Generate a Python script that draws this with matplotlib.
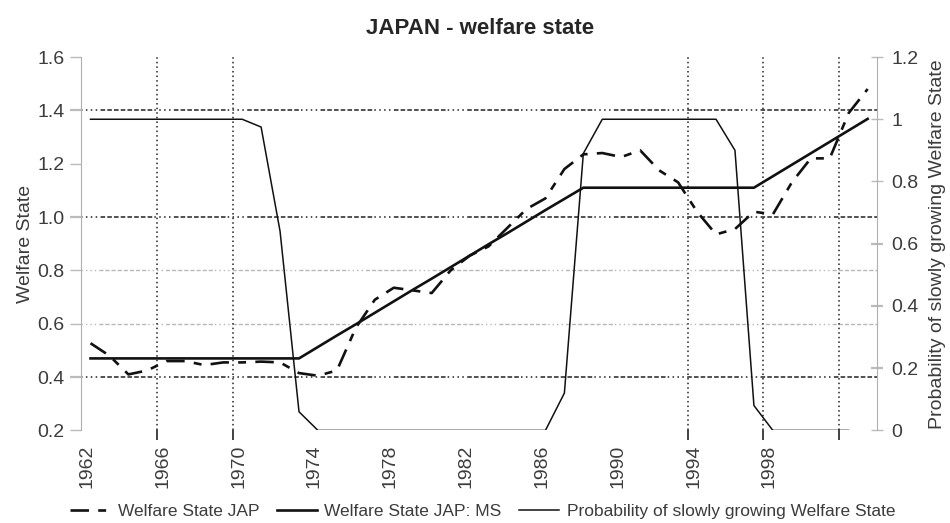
import matplotlib
matplotlib.use("Agg")
import matplotlib.pyplot as plt
import matplotlib.transforms as mtransforms

plt.rcParams['font.family'] = ['Liberation Sans', 'DejaVu Sans']

# yearly series, 1962-2003
years = list(range(1962, 2004))
welfare_jap = [0.527, 0.48, 0.41, 0.425, 0.46, 0.46, 0.445, 0.455, 0.455, 0.458,
               0.455, 0.415, 0.405, 0.425, 0.585, 0.69, 0.735, 0.725, 0.715, 0.80,
               0.855, 0.89, 0.96, 1.03, 1.07, 1.18, 1.235, 1.24, 1.225, 1.25,
               1.175, 1.13, 1.02, 0.935, 0.955, 1.02, 1.01, 1.13, 1.22, 1.22,
               1.39, 1.48]
welfare_ms = [0.47, 0.47, 0.47, 0.47, 0.47, 0.47, 0.47, 0.47, 0.47, 0.47,
              0.47, 0.47, 0.513, 0.556, 0.598, 0.641, 0.684, 0.727, 0.769, 0.812,
              0.855, 0.898, 0.94, 0.983, 1.026, 1.068, 1.11, 1.11, 1.11, 1.11,
              1.11, 1.11, 1.11, 1.11, 1.11, 1.11, 1.153, 1.196, 1.239, 1.282,
              1.325, 1.368]
# probability series stops in 2002
prob_years = list(range(1962, 2003))
prob_slow = [1.0, 1.0, 1.0, 1.0, 1.0, 1.0, 1.0, 1.0, 1.0, 0.975,
             0.64, 0.06, 0.0, 0.0, 0.0, 0.0, 0.0, 0.0, 0.0, 0.0,
             0.0, 0.0, 0.0, 0.0, 0.0, 0.12, 0.89, 1.0, 1.0, 1.0,
             1.0, 1.0, 1.0, 1.0, 0.9, 0.08, 0.0, 0.0, 0.0, 0.0,
             0.0]

tick_years = list(range(1962, 2003, 4))
tick_labels = [str(y) for y in tick_years[:-1]] + ['']
grid_years = [1966, 1970, 1994, 1998, 2002]
grid_dark = [1.4, 1.0, 0.4]
grid_light = [0.8, 0.6]

fig = plt.figure(figsize=(9.5, 5.23), dpi=100)
ax = fig.add_axes([0.0853, 0.177, 0.838, 0.714])
ax2 = ax.twinx()

# values sit in the middle of each year
x_jap = [y + 0.5 for y in years]
x_ms = [y + 0.5 for y in years]
x_prob = [y + 0.5 for y in prob_years]

mixed_dash = (0, (1, 2.2, 1, 2.2, 1, 2.2, 1, 2.2,
                  3, 1.4, 3, 1.4, 3, 1.4, 3, 1.4, 3, 1.4, 3, 1.4, 3, 1.4, 3, 1.4))
for v in grid_dark:
    ax.axhline(v, color='#222222', lw=1.1, ls=mixed_dash, zorder=1)
for v in grid_light:
    ax.axhline(v, color='#b8b8b8', lw=1.0, ls=mixed_dash, zorder=1)
for yr in grid_years:
    ax.axvline(yr, color='#222222', lw=1.1, ls=(0, (1, 2)), zorder=1)

ln_prob, = ax2.plot(x_prob, prob_slow, color='#111111', lw=1.1,
                    label='Probability of slowly growing Welfare State')
ln_jap, = ax.plot(x_jap, welfare_jap, color='#111111', lw=1.9,
                  ls=(0, (7, 3.5, 3, 3.5)), label='Welfare State JAP')
ln_ms, = ax.plot(x_ms, welfare_ms, color='#111111', lw=1.9,
                 label='Welfare State JAP: MS')

ax.set_xlim(1962, 2004)
ax.set_ylim(0.2, 1.6)
ax2.set_ylim(0, 1.2)

ax.set_xticks(tick_years)
ax.set_xticklabels(tick_labels, rotation=90)
ax.set_yticks([0.2, 0.4, 0.6, 0.8, 1.0, 1.2, 1.4, 1.6])
ax.set_yticklabels(['0.2', '0.4', '0.6', '0.8', '1.0', '1.2', '1.4', '1.6'])
ax2.set_yticks([0, 0.2, 0.4, 0.6, 0.8, 1.0, 1.2])
ax2.set_yticklabels(['0', '0.2', '0.4', '0.6', '0.8', '1', '1.2'])

txt = '#3c3c3c'
ax.tick_params(axis='x', length=7, width=1.2, color='#222222', labelsize=14,
               labelcolor=txt, pad=3)
for t, yr in zip(ax.xaxis.get_major_ticks(), tick_years):
    t.tick1line.set_visible(yr in grid_years)
# year labels sit a little to the right of their ticks
shift = mtransforms.ScaledTranslation(6 / 100, 0, fig.dpi_scale_trans)
for lbl in ax.get_xticklabels():
    lbl.set_transform(lbl.get_transform() + shift)

ax.tick_params(axis='y', length=8, width=1.0, color='#bbbbbb', labelsize=14,
               labelcolor=txt, pad=4)
for t, v in zip(ax.yaxis.get_major_ticks(), ax.get_yticks()):
    if round(v, 1) in grid_dark:
        t.tick1line.set_color('#222222')
        t.tick1line.set_markeredgewidth(1.6)
ax2.tick_params(axis='y', length=8, width=1.0, color='#bbbbbb', labelsize=14,
                labelcolor=txt, pad=6, direction='inout')
for t, v in zip(ax2.yaxis.get_major_ticks(), ax2.get_yticks()):
    if round(v, 1) in (0.2, 0.4, 0.6):
        t.tick2line.set_color('#222222')
        t.tick2line.set_markeredgewidth(1.6)

for a in (ax, ax2):
    a.spines['top'].set_visible(False)
    a.spines['bottom'].set_visible(False)
    a.spines['left'].set_color('#b0b0b0')
    a.spines['right'].set_color('#b0b0b0')
ax2.spines['left'].set_visible(False)
ax.spines['right'].set_visible(False)

ax.set_ylabel('Welfare State', fontsize=14, color=txt, labelpad=2)
ax2.set_ylabel('Probability of slowly growing Welfare State', fontsize=14,
               color=txt, labelpad=8)
fig.suptitle('JAPAN - welfare state', x=0.505, y=0.965, fontsize=16,
             fontweight='bold', color='#262626')

fig.legend(handles=[ln_jap, ln_ms, ln_prob], loc='lower center',
           bbox_to_anchor=(0.508, -0.022), ncol=3, frameon=False, fontsize=12.5,
           handlelength=2.3, handletextpad=0.45, columnspacing=1.0,
           labelcolor=txt)

fig.savefig('out.png', dpi=100)
